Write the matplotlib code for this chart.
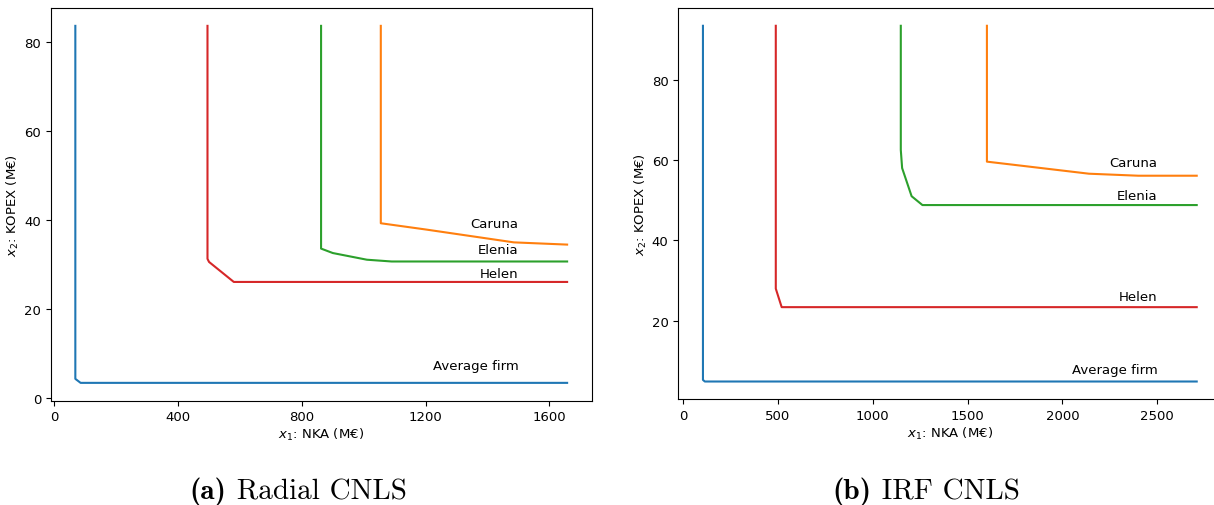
import matplotlib
matplotlib.use("Agg")
import matplotlib.pyplot as plt

plt.rcParams['mathtext.fontset'] = 'dejavusans'

# (a) Radial CNLS  -- frontier points (x1 = NKA, x2 = KOPEX)
rad_avg_x = [68, 68, 85, 1657]
rad_avg_y = [83.6, 4.2, 3.3, 3.3]
rad_helen_x = [495, 495, 500, 580, 1657]
rad_helen_y = [83.6, 31.2, 30.5, 26.0, 26.0]
rad_elenia_x = [862, 862, 900, 1010, 1090, 1657]
rad_elenia_y = [83.6, 33.5, 32.5, 31.0, 30.6, 30.6]
rad_caruna_x = [1055, 1055, 1200, 1485, 1657]
rad_caruna_y = [83.6, 39.2, 37.8, 34.9, 34.4]

# (b) IRF CNLS
irf_avg_x = [105, 105, 115, 2708]
irf_avg_y = [93.4, 5.3, 4.9, 4.9]
irf_helen_x = [489, 489, 520, 2708]
irf_helen_y = [93.4, 28.0, 23.4, 23.4]
irf_elenia_x = [1148, 1148, 1155, 1205, 1262, 2708]
irf_elenia_y = [93.4, 62.5, 58.0, 51.0, 48.8, 48.8]
irf_caruna_x = [1602, 1602, 1800, 2140, 2400, 2708]
irf_caruna_y = [93.4, 59.6, 58.5, 56.6, 56.1, 56.1]

# label positions (right aligned)
rad_label_x = 1500
rad_labels = ["Caruna", "Elenia", "Helen", "Average firm"]
rad_label_y = [39.2, 33.2, 28.0, 7.1]
irf_label_x = 2500
irf_labels = ["Caruna", "Elenia", "Helen", "Average firm"]
irf_label_y = [59.3, 51.1, 26.0, 7.8]

C_BLUE = '#1f77b4'
C_ORANGE = '#ff7f0e'
C_GREEN = '#2ca02c'
C_RED = '#d62728'

fig = plt.figure(figsize=(12.14, 5.06), dpi=100)
ax1 = fig.add_axes([0.0418, 0.2061, 0.4456, 0.7761])
ax2 = fig.add_axes([0.5587, 0.2089, 0.4474, 0.7733])

# Radial CNLS
ax1.plot(rad_avg_x, rad_avg_y, color=C_BLUE, lw=1.5)
ax1.plot(rad_caruna_x, rad_caruna_y, color=C_ORANGE, lw=1.5)
ax1.plot(rad_elenia_x, rad_elenia_y, color=C_GREEN, lw=1.5)
ax1.plot(rad_helen_x, rad_helen_y, color=C_RED, lw=1.5)
for lab, yy in zip(rad_labels, rad_label_y):
    ax1.text(rad_label_x, yy, lab, ha='right', va='center', fontsize=9.5)
ax1.set_xticks([0, 400, 800, 1200, 1600])
ax1.set_yticks([0, 20, 40, 60, 80])

# IRF CNLS
ax2.plot(irf_avg_x, irf_avg_y, color=C_BLUE, lw=1.5)
ax2.plot(irf_caruna_x, irf_caruna_y, color=C_ORANGE, lw=1.5)
ax2.plot(irf_elenia_x, irf_elenia_y, color=C_GREEN, lw=1.5)
ax2.plot(irf_helen_x, irf_helen_y, color=C_RED, lw=1.5)
for lab, yy in zip(irf_labels, irf_label_y):
    ax2.text(irf_label_x, yy, lab, ha='right', va='center', fontsize=9.5)
ax2.set_xticks([0, 500, 1000, 1500, 2000, 2500])
ax2.set_yticks([20, 40, 60, 80])
# the right frame edge falls just outside the picture in the original
ax2.spines['right'].set_visible(False)

for ax in (ax1, ax2):
    ax.tick_params(labelsize=9.5)
    ax.set_xlabel(r'$x_1$: NKA (M€)', fontsize=9.5, labelpad=2)
    ax.set_ylabel(r'$x_2$: KOPEX (M€)', fontsize=9.5, labelpad=2)

# captions under the panels, LaTeX-like (bold tag + roman text)
fig.canvas.draw()
renderer = fig.canvas.get_renderer()
for cx, tag, name in [(0.2455, '(a)', 'Radial CNLS'), (0.7628, '(b)', 'IRF CNLS')]:
    t1 = fig.text(0, 0.028, tag, fontfamily='cmb10', fontsize=21, va='center')
    t2 = fig.text(0, 0.028, ' ' + name, fontfamily='cmr10', fontsize=21, va='center')
    w1 = t1.get_window_extent(renderer).width / fig.bbox.width
    w2 = t2.get_window_extent(renderer).width / fig.bbox.width
    x0 = cx - (w1 + w2) / 2
    t1.set_x(x0)
    t2.set_x(x0 + w1)

fig.savefig('out.png', dpi=100)
